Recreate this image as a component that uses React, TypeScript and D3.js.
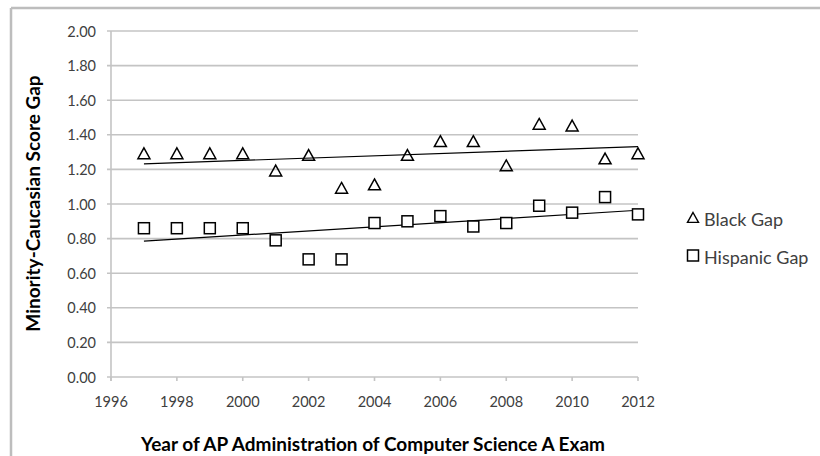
import React from "react";
import * as d3 from "d3";

const years = [1997, 1998, 1999, 2000, 2001, 2002, 2003, 2004, 2005, 2006, 2007, 2008, 2009, 2010, 2011, 2012];
const blackGap = [1.29, 1.29, 1.29, 1.29, 1.19, 1.28, 1.09, 1.11, 1.28, 1.36, 1.36, 1.22, 1.46, 1.45, 1.26, 1.29];
const hispanicGap = [0.86, 0.86, 0.86, 0.86, 0.79, 0.68, 0.68, 0.89, 0.90, 0.93, 0.87, 0.89, 0.99, 0.95, 1.04, 0.94];
const xTicks = [1996, 1998, 2000, 2002, 2004, 2006, 2008, 2010, 2012];
const yTicks = [0, 0.2, 0.4, 0.6, 0.8, 1.0, 1.2, 1.4, 1.6, 1.8, 2.0];
const seriesNames = ["Black Gap", "Hispanic Gap"];
const xTitle = "Year of AP Administration of Computer Science A Exam";
const yTitle = "Minority-Caucasian Score Gap";

const FONT = "Lato, 'Open Sans', sans-serif";

function regression(xs: number[], ys: number[]) {
  const mx = d3.mean(xs)!;
  const my = d3.mean(ys)!;
  let num = 0, den = 0;
  xs.forEach((x, i) => { num += (x - mx) * (ys[i] - my); den += (x - mx) * (x - mx); });
  const b = num / den;
  const a = my - b * mx;
  return (x: number) => a + b * x;
}

export default function App() {
  const W = 820, H = 456;
  const x = d3.scaleLinear().domain([1996, 2012]).range([111, 638]);
  const y = d3.scaleLinear().domain([0, 2]).range([377, 31]);
  const gridColor = "#c4c4c4";

  const tri = (cx: number, cy: number, s = 6) =>
    `M${cx},${cy - s} L${cx + s},${cy + s * 0.8} L${cx - s},${cy + s * 0.8} Z`;

  const fb = regression(years, blackGap);
  const fh = regression(years, hispanicGap);
  const x0 = years[0], x1 = years[years.length - 1];

  return (
    <svg width={W} height={H} style={{ position: "absolute", left: 0, top: 0, background: "#fff" }} fontFamily={FONT}>
      <rect x={0} y={0} width={W} height={H} fill="#fff" />
      {/* outer border (top and left visible) */}
      <line x1={11} y1={8} x2={W} y2={8} stroke="#bdbdbd" strokeWidth={2.5} />
      <line x1={11} y1={8} x2={11} y2={H} stroke="#bdbdbd" strokeWidth={2.5} />

      {/* gridlines */}
      {yTicks.map((t) => (
        <line key={"g" + t} x1={x(1996) - 4} x2={x(2012)} y1={y(t)} y2={y(t)} stroke={gridColor} strokeWidth={1.6} />
      ))}
      {/* y axis */}
      <line x1={x(1996)} x2={x(1996)} y1={y(2)} y2={y(0) + 4} stroke={gridColor} strokeWidth={1.6} />
      {/* x ticks */}
      {xTicks.map((t) => (
        <line key={"xt" + t} x1={x(t)} x2={x(t)} y1={y(0)} y2={y(0) + 4} stroke={gridColor} strokeWidth={1.6} />
      ))}
      {/* y tick labels */}
      {yTicks.map((t) => (
        <text key={"yl" + t} x={96} y={y(t)} textAnchor="end" dominantBaseline="central" fontSize={14.5} fill="#404040">
          {t.toFixed(2)}
        </text>
      ))}
      {/* x tick labels */}
      {xTicks.map((t) => (
        <text key={"xl" + t} x={x(t)} y={401} textAnchor="middle" dominantBaseline="central" fontSize={14.5} fill="#404040">
          {t}
        </text>
      ))}

      {/* trend lines */}
      <line x1={x(x0)} y1={y(fb(x0))} x2={x(x1)} y2={y(fb(x1))} stroke="#000" strokeWidth={1.2} />
      <line x1={x(x0)} y1={y(fh(x0))} x2={x(x1)} y2={y(fh(x1))} stroke="#000" strokeWidth={1.2} />

      {/* markers */}
      {years.map((yr, i) => (
        <path key={"b" + yr} d={tri(x(yr), y(blackGap[i]))} fill="none" stroke="#000" strokeWidth={1.5} />
      ))}
      {years.map((yr, i) => (
        <rect key={"h" + yr} x={x(yr) - 5.5} y={y(hispanicGap[i]) - 5.5} width={11} height={11} fill="#fff" stroke="#000" strokeWidth={1.5} />
      ))}

      {/* axis titles */}
      <text x={373} y={443} textAnchor="middle" dominantBaseline="central" fontSize={19} fontWeight="bold" fill="#000">
        {xTitle}
      </text>
      <text transform={`translate(32,203.5) rotate(-90)`} textAnchor="middle" dominantBaseline="central" fontSize={19} fontWeight="bold" fill="#000">
        {yTitle}
      </text>

      {/* legend */}
      <path d={tri(693, 218, 5.5)} fill="none" stroke="#000" strokeWidth={1.4} />
      <text x={704} y={219} dominantBaseline="central" fontSize={18} fill="#404040">{seriesNames[0]}</text>
      <rect x={687.5} y={250} width={11} height={11} fill="none" stroke="#000" strokeWidth={1.5} />
      <text x={704} y={257} dominantBaseline="central" fontSize={18} fill="#404040">{seriesNames[1]}</text>
    </svg>
  );
}
